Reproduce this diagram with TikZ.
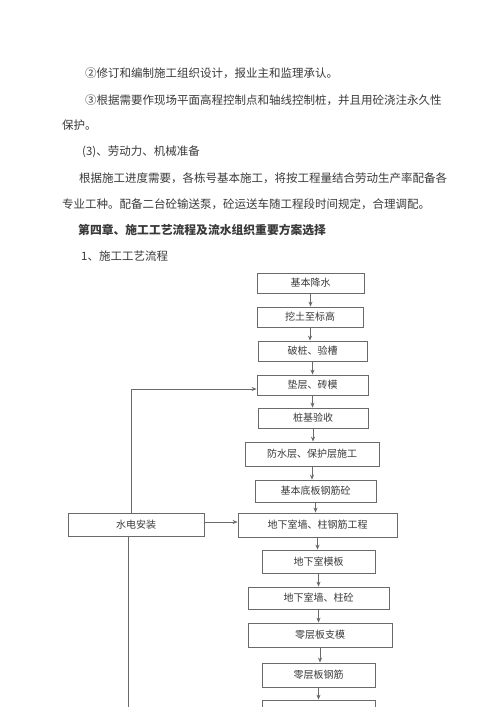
\documentclass[tikz,border=0pt]{standalone}
\usepackage{fontspec}
\setmainfont{Noto Sans CJK SC}
\usetikzlibrary{arrows.meta}
\definecolor{linegray}{HTML}{6A6A6A}
\definecolor{textgray}{HTML}{3A3A3A}
\tikzset{
    flowbox/.style={draw=linegray, line width=0.8pt, minimum height=20pt, inner sep=0pt,
        text=textgray, font=\fontsize{10}{12}\selectfont},
    bodyline/.style={anchor=west, inner sep=0pt, text=textgray, font=\fontsize{11.5}{14}\selectfont},
    flow/.style={draw=linegray, line width=0.8pt, -{Stealth[length=5pt,width=4pt]}},
    plain/.style={draw=linegray, line width=0.8pt},
}
\begin{document}
\begin{tikzpicture}[x=1pt, y=-1pt]
    \clip (0, 0) rectangle (500, 707);
    \fill [white] (0, 0) rectangle (500, 707);

    % Text above the chart
    \node [bodyline] (p1) at (85, 73) {②修订和编制施工组织设计，报业主和监理承认。};
    \node [bodyline] (p2) at (85, 100) {③根据需要作现场平面高程控制点和轴线控制桩，并且用砼浇注永久性};
    \node [bodyline] (p3) at (62, 125) {保护。};
    \node [bodyline] (p4) at (82, 152) {(3)、劳动力、机械准备};
    \node [bodyline] (p5) at (79, 178) {根据施工进度需要，各栋号基本施工，将按工程量结合劳动生产率配备各};
    \node [bodyline] (p6) at (62, 204) {专业工种。配备二台砼输送泵，砼运送车随工程段时间规定，合理调配。};
    \node [bodyline, font=\fontsize{11.8}{14}\selectfont\bfseries] (h4) at (78, 230) {第四章、施工工艺流程及流水组织重要方案选择};
    \node [bodyline] (h41) at (81, 256) {1、施工工艺流程};

    % Main column
    \node [flowbox, minimum width=107] (s1) at (310.5, 283) {基本降水};
    \node [flowbox, minimum width=106] (s2) at (310, 317) {挖土至标高};
    \node [flowbox, minimum width=109] (s3) at (312.5, 351) {破桩、验槽};
    \node [flowbox, minimum width=111] (s4) at (312.5, 385) {垫层、砖模};
    \node [flowbox, minimum width=110] (s5) at (313, 418) {桩基验收};
    \node [flowbox, minimum width=134, minimum height=24] (s6) at (312, 454) {防水层、保护层施工};
    \node [flowbox, minimum width=121, minimum height=22] (s7) at (315.5, 491) {基本底板钢筋砼};
    \node [flowbox, minimum width=159, minimum height=24] (s8) at (317.5, 525) {地下室墙、柱钢筋工程};
    \node [flowbox, minimum width=113, minimum height=23] (s9) at (318.5, 561.5) {地下室模板};
    \node [flowbox, minimum width=141, minimum height=22] (s10) at (318.5, 598) {地下室墙、柱砼};
    \node [flowbox, minimum width=144, minimum height=24] (s11) at (320, 635) {零层板支模};
    \node [flowbox, minimum width=113, minimum height=24] (s12) at (318.5, 675) {零层板钢筋};
    \node [flowbox, minimum width=113, minimum height=24] (s13) at (318.5, 712) {};

    \foreach \a/\b in {s1/s2, s2/s3, s3/s4, s4/s5, s5/s6, s6/s7, s7/s8, s8/s9, s9/s10, s10/s11, s11/s12, s12/s13}
        \draw [flow] (\a.south) -- (\a.south |- \b.north);

    % Side branch
    \node [flowbox, minimum width=136, minimum height=23] (sdaz) at (136, 524.5) {水电安装};
    \draw [flow] ([xshift=-5pt]sdaz.north) |- ([yshift=-4pt]s4.west);
    \draw [flow] ([yshift=2.5pt]sdaz.east) -- ([yshift=2.5pt]sdaz.east -| s8.west);
    \coordinate (sdend) at (128, 707);
    \draw [plain] (sdaz.south -| sdend) -- (sdend);

\end{tikzpicture}
\end{document}
